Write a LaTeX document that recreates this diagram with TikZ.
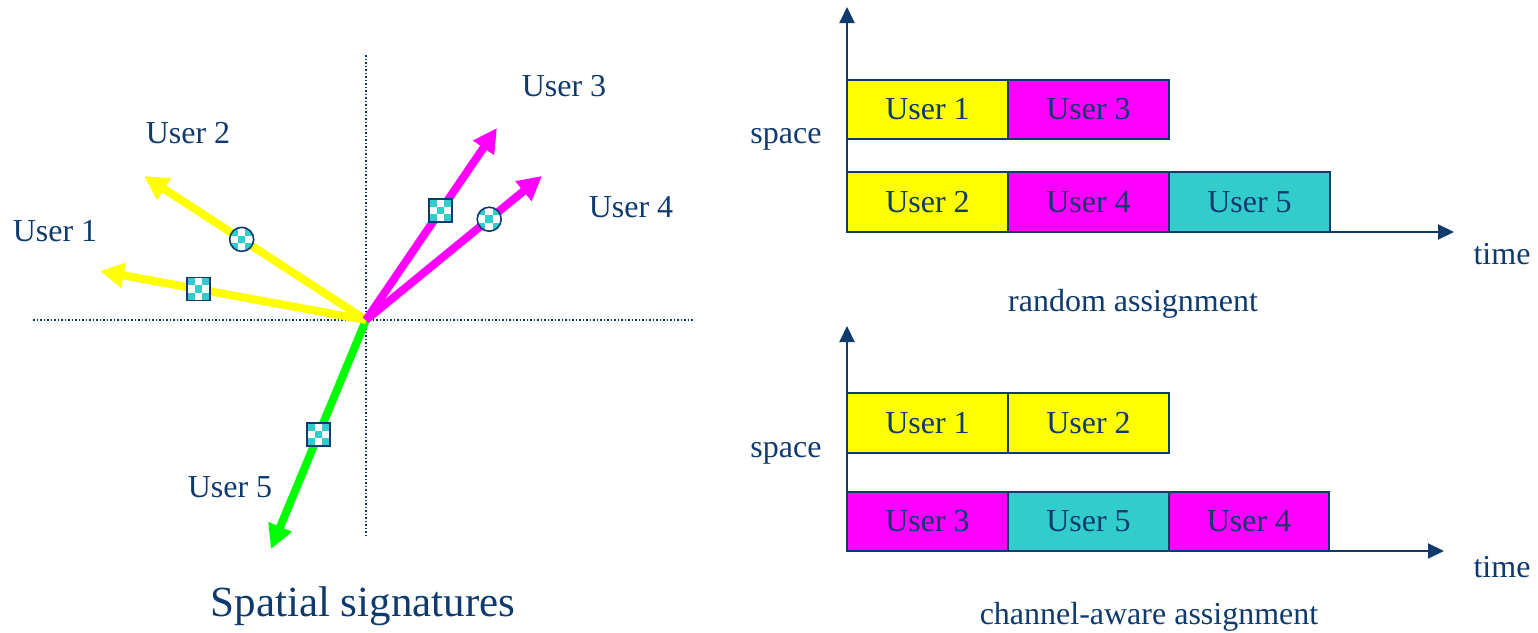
\documentclass[tikz,border=0pt]{standalone}
\usepackage{fontspec}
\setmainfont{Liberation Serif}
\usetikzlibrary{arrows.meta}
\definecolor{navy}{RGB}{14,58,110}
\definecolor{cyanc}{RGB}{51,204,204}
\definecolor{ylw}{RGB}{255,255,0}
\definecolor{mag}{RGB}{255,0,255}
\definecolor{grn}{RGB}{0,255,0}
\newcommand\lblfont{\fontsize{32}{38}\selectfont}
\newcommand\bigfont{\fontsize{43}{50}\selectfont}
\tikzset{
  lab/.style={text=navy, font=\lblfont, inner sep=0pt, anchor=base},
  ubox/.style={draw=navy, line width=2pt, minimum width=161pt, minimum height=59pt,
    inner sep=0pt, text=navy, font=\lblfont},
  axisline/.style={draw=navy, line width=2pt, -{Triangle[length=16pt,width=15pt]}},
  guide/.style={draw=navy, line width=1.5pt, dash pattern=on 1.5pt off 2pt},
  uarrow/.style={line width=8pt, -{Triangle[length=24pt,width=24pt]}},
  checker/.style={path picture={
    \foreach \a/\b in {-1/-1,1/-1,0/0,-1/1,1/1}
      \fill[cyanc] ([shift={(\a*7.6pt-3.8pt,\b*7.6pt-3.8pt)}]path picture bounding box.center)
        rectangle ++(7.6pt,7.6pt);
  }},
  sqmark/.style={rectangle, draw=navy, line width=1.6pt, fill=white, minimum size=23pt,
    inner sep=0pt, checker},
  cimark/.style={circle, draw=navy, line width=1.6pt, fill=white, minimum size=24pt,
    inner sep=0pt, checker},
}
\begin{document}
\begin{tikzpicture}[x=1pt,y=-1pt]
\useasboundingbox (0,0) rectangle (1538,632);

% ---------- left panel: spatial signatures ----------
\coordinate (hl) at (33,320);
\coordinate (hr) at (694,320);
\coordinate (vt) at (366,55);
\coordinate (vb) at (366,537);
\draw[guide] (hl) -- (hr);
\draw[guide] (vt) -- (vb);

\coordinate (O) at (366,320);
\coordinate (t1) at (100,271);
\coordinate (t2) at (144,176);
\coordinate (t3) at (497,128);
\coordinate (t4) at (542,176);
\coordinate (t5) at (271,549);

\draw[uarrow, draw=grn, fill=grn] (O) -- (t5) node[sqmark, pos=0.5] (m5) {};
\draw[uarrow, draw=ylw, fill=ylw] (O) -- (t1) node[sqmark, pos=0.63] (m1) {};
\draw[uarrow, draw=ylw, fill=ylw] (O) -- (t2) node[cimark, pos=0.56] (m2) {};
\draw[uarrow, draw=mag, fill=mag] (O) -- (t3) node[sqmark, pos=0.57] (m3) {};
\draw[uarrow, draw=mag, fill=mag] (O) -- (t4) node[cimark, pos=0.70] (m4) {};

\node[lab] (l1) at (55,241) {User 1};
\node[lab] (l2) at (188,143) {User 2};
\node[lab] (l3) at (564,96) {User 3};
\node[lab] (l4) at (631,217) {User 4};
\node[lab] (l5) at (230,497) {User 5};
\node[text=navy, font=\bigfont, inner sep=0pt, anchor=base] (ss) at (363,616) {Spatial signatures};

% ---------- right top: random assignment ----------
\node[ubox, fill=ylw, minimum height=59pt] (a11) at (927.5,109.5) {User 1};
\node[ubox, fill=mag, minimum height=59pt] (a12) at (1088.5,109.5) {User 3};
\node[ubox, fill=ylw, minimum height=60pt] (a21) at (927.5,202) {User 2};
\node[ubox, fill=mag, minimum height=60pt] (a22) at (1088.5,202) {User 4};
\node[ubox, fill=cyanc, minimum height=60pt] (a23) at (1249.5,202) {User 5};

\coordinate (o1) at (847,232);
\coordinate (y1) at (847,7);
\coordinate (x1) at (1454,232);
\draw[axisline] (o1) -- (y1);
\draw[axisline] (o1) -- (x1);

\node[lab] (sp1) at (786,143) {space};
\node[lab] (tm1) at (1502,264) {time};
\node[lab] (ra) at (1133,311) {random assignment};

% ---------- right bottom: channel-aware assignment ----------
\node[ubox, fill=ylw, minimum height=60pt] (b11) at (927.5,423) {User 1};
\node[ubox, fill=ylw, minimum height=60pt] (b12) at (1088.5,423) {User 2};
\node[ubox, fill=mag, minimum height=59pt] (b21) at (927.5,521.5) {User 3};
\node[ubox, fill=cyanc, minimum height=59pt] (b22) at (1088.5,521.5) {User 5};
\node[ubox, fill=mag, minimum height=59pt, minimum width=160pt] (b23) at (1249,521.5) {User 4};

\coordinate (o2) at (847,551);
\coordinate (y2) at (847,326);
\coordinate (x2) at (1444,551);
\draw[axisline] (o2) -- (y2);
\draw[axisline] (o2) -- (x2);

\node[lab] (sp2) at (786,457) {space};
\node[lab] (tm2) at (1502,577) {time};
\node[lab] (ca) at (1149,624) {channel-aware assignment};
\end{tikzpicture}
\end{document}
